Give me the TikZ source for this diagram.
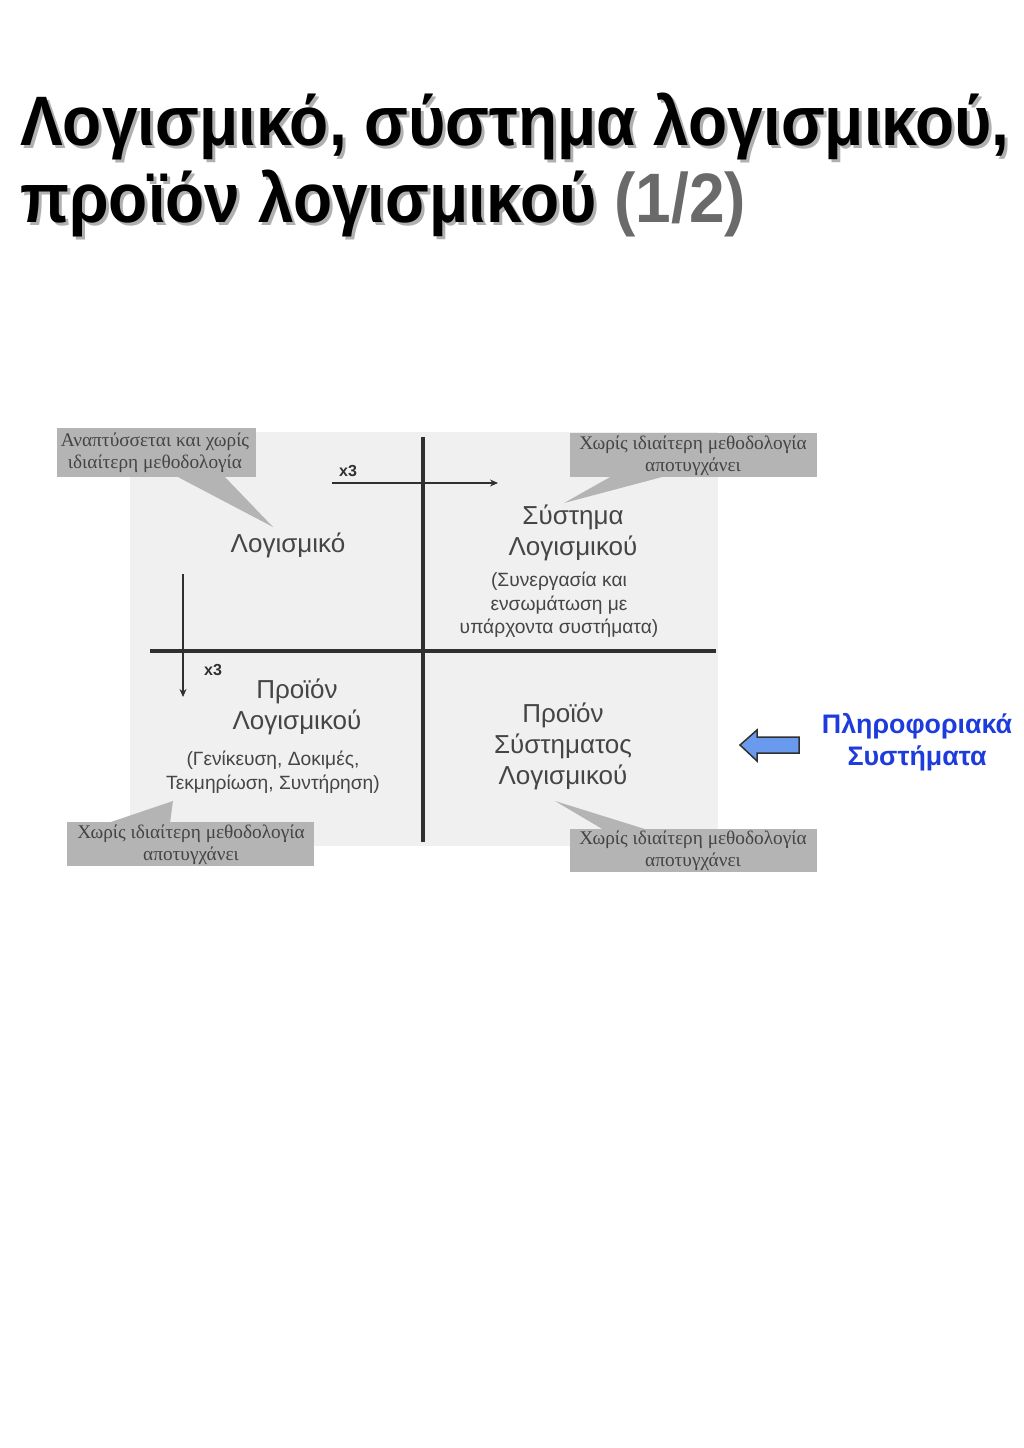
\documentclass[tikz,border=0pt]{standalone}
\usepackage{fontspec}
\setmainfont{Liberation Sans}
\newfontfamily\titlefont[FakeStretch=0.915]{Liberation Sans Bold}
\newfontfamily\labelfont{Liberation Sans}
\newfontfamily\notefont{Liberation Serif}
\usetikzlibrary{arrows.meta}
\definecolor{panel}{HTML}{F0F0F0}
\definecolor{callout}{HTML}{B4B4B4}
\definecolor{calltext}{HTML}{444444}
\definecolor{labeltext}{HTML}{454545}
\definecolor{axis}{HTML}{303030}
\definecolor{isblue}{HTML}{1E3CDC}
\definecolor{arrowblue}{HTML}{6A9AEE}
\definecolor{shadowgrey}{HTML}{B0B0B0}
\definecolor{titlegrey}{HTML}{6A6A6A}
\newcommand{\shadowed}[1]{\makebox[0pt][l]{\hspace{3pt}\raisebox{-3pt}{\color{shadowgrey}#1}}#1}
\tikzset{
  title/.style={anchor=base west, inner sep=0pt, font=\titlefont\fontsize{70}{78}\selectfont},
  lbl/.style={align=center, inner sep=0pt, text=labeltext, font=\labelfont\fontsize{26}{31}\selectfont},
  note/.style={align=center, inner sep=0pt, text=labeltext, font=\labelfont\fontsize{19.2}{23.5}\selectfont},
  calltxt/.style={align=center, inner sep=0pt, text=calltext, font=\notefont\fontsize{19.3}{22}\selectfont},
  mult/.style={inner sep=0pt, text=axis, font=\labelfont\bfseries\fontsize{16}{18}\selectfont},
  axisline/.style={draw=axis, line width=3.5pt},
  multarrow/.style={draw=axis, line width=2.5pt, -{Stealth[length=8pt,width=7pt]}},
  calloutfill/.style={fill=callout},
}
\begin{document}
\begin{tikzpicture}[x=1pt,y=-1pt]
\useasboundingbox[fill=white] (0,0) rectangle (1024,1448);

% title with shadow
\node[title] (t1) at (20,145) {\shadowed{Λογισμικό, σύστημα λογισμικού,}};
\node[title] (t2) at (20,222) {\shadowed{προϊόν λογισμικού} \textcolor{titlegrey}{(1/2)}};

% panel
\fill[panel] (130,432) rectangle (718,846);

% axes
\coordinate (vtop) at (423,437);
\coordinate (vbot) at (423,842);
\coordinate (hl) at (150,651);
\coordinate (hr) at (716,651);
\draw[axisline] (vtop) -- (vbot);
\draw[axisline] (hl) -- (hr);

% multiplier arrows
\coordinate (ha) at (332,483);
\coordinate (hb) at (498,483);
\coordinate (va) at (183,574);
\coordinate (vb) at (183,697);
\draw[multarrow] (ha) -- (hb);
\draw[multarrow] (va) -- (vb);
\node[mult] (m1) at (348,471) {x3};
\node[mult] (m2) at (213,670) {x3};

% callouts
\fill[calloutfill] (57,428) rectangle (256,477);
\fill[calloutfill] (176,476) -- (273,527) -- (224,476) -- cycle;
\node[calltxt] (c1) at (155,453) {Αναπτύσσεται και χωρίς\\ιδιαίτερη μεθοδολογία};

\fill[calloutfill] (570,433) rectangle (817,477);
\fill[calloutfill] (612,476) -- (564,503) -- (666,476) -- cycle;
\node[calltxt] (c2) at (693,456) {Χωρίς ιδιαίτερη μεθοδολογία\\αποτυγχάνει};

\fill[calloutfill] (67,822) rectangle (314,866);
\fill[calloutfill] (108,823) -- (173,801) -- (170,823) -- cycle;
\node[calltxt] (c3) at (191,845) {Χωρίς ιδιαίτερη μεθοδολογία\\αποτυγχάνει};

\fill[calloutfill] (570,829) rectangle (817,872);
\fill[calloutfill] (604,830) -- (555,801) -- (648,830) -- cycle;
\node[calltxt] (c4) at (693,851) {Χωρίς ιδιαίτερη μεθοδολογία\\αποτυγχάνει};

% quadrant labels
\node[lbl] (sw) at (288,545) {Λογισμικό};
\node[lbl] (sys) at (573,533) {Σύστημα\\Λογισμικού};
\node[note] (sysnote) at (559,605) {(Συνεργασία και\\ενσωμάτωση με\\υπάρχοντα συστήματα)};
\node[lbl] (prod) at (297,707) {Προϊόν\\Λογισμικού};
\node[note] (prodnote) at (273,772) {(Γενίκευση, Δοκιμές,\\Τεκμηρίωση, Συντήρηση)};
\node[lbl] (sysprod) at (563,746) {Προϊόν\\Σύστηματος\\Λογισμικού};

% information systems
\node[align=center, inner sep=0pt, text=isblue, font=\labelfont\bfseries\fontsize{26.8}{32}\selectfont] (is) at (917,742) {Πληροφοριακά\\Συστήματα};
\draw[fill=arrowblue, draw=axis, line width=1.5pt, line join=miter]
  (740,745) -- (757,730) -- (757,737) -- (799,737) -- (799,753) -- (757,753) -- (757,761) -- cycle;
\end{tikzpicture}
\end{document}
